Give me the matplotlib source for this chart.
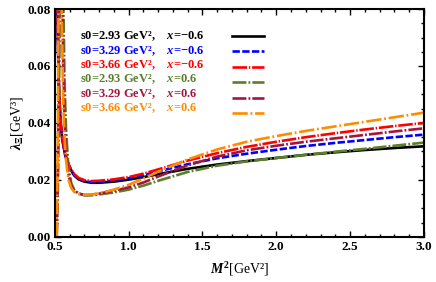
import matplotlib
matplotlib.use("Agg")
import matplotlib.pyplot as plt
from matplotlib.ticker import MultipleLocator

plt.rcParams['font.family'] = ['Liberation Serif', 'DejaVu Serif']
plt.rcParams['font.weight'] = 'bold'
plt.rcParams['mathtext.fontset'] = 'custom'
plt.rcParams['mathtext.rm'] = 'Liberation Serif:bold'
plt.rcParams['mathtext.it'] = 'Liberation Serif:italic:bold'
plt.rcParams['mathtext.bf'] = 'Liberation Serif:bold'
plt.rcParams['lines.scale_dashes'] = False

# x = -0.6 curves
m2_a = [0.515, 0.52, 0.525, 0.53, 0.54, 0.55, 0.57, 0.6, 0.63, 0.66, 0.7, 0.75, 0.8,
        0.9, 1.0, 1.1, 1.2, 1.4, 1.6, 1.8, 2.0, 2.2, 2.4, 2.6, 2.8, 3.0]
lam_293_m = [0.095, 0.070, 0.055, 0.047, 0.039, 0.034, 0.0285, 0.0242, 0.0216, 0.0202, 0.0194,
             0.0190, 0.0190, 0.0194, 0.0201, 0.0210, 0.0220, 0.0239, 0.0254, 0.0266, 0.0277,
             0.0288, 0.0297, 0.0305, 0.0312, 0.0318]
lam_329_m = [0.096, 0.071, 0.056, 0.048, 0.0395, 0.0345, 0.0288, 0.0244, 0.0218, 0.0204, 0.0196,
             0.0192, 0.0193, 0.0198, 0.0206, 0.0217, 0.0230, 0.0255, 0.0276, 0.0292, 0.0306,
             0.0319, 0.0330, 0.0340, 0.0350, 0.0359]
lam_366_m = [0.097, 0.072, 0.057, 0.049, 0.040, 0.035, 0.029, 0.0246, 0.0221, 0.0207, 0.0199,
             0.0196, 0.0197, 0.0202, 0.0210, 0.0222, 0.0237, 0.0268, 0.0294, 0.0316, 0.0334,
             0.0350, 0.0364, 0.0377, 0.0389, 0.0400]

# x = 0.6 curves
m2_b = [0.512, 0.52, 0.528, 0.536, 0.545, 0.555, 0.565, 0.575, 0.59, 0.61, 0.63, 0.66, 0.7,
        0.75, 0.8, 0.9, 1.0, 1.1, 1.2, 1.4, 1.6, 1.8, 2.0, 2.2, 2.4, 2.6, 2.8, 3.0]
lam_293_p = [0.0, 0.018, 0.05, 0.12, 0.2, 0.09, 0.055, 0.038, 0.0255, 0.0190, 0.0166, 0.0153,
             0.0146, 0.0146, 0.0149, 0.0156, 0.0166, 0.0180, 0.0197, 0.0228, 0.0250, 0.0265,
             0.0277, 0.0288, 0.0299, 0.0309, 0.0320, 0.0331]
lam_329_p = [0.0, 0.025, 0.07, 0.2, 0.12, 0.065, 0.042, 0.031, 0.0225, 0.0180, 0.0162, 0.0152,
             0.0147, 0.0148, 0.0152, 0.0162, 0.0174, 0.0191, 0.0212, 0.0251, 0.0282, 0.0304,
             0.0320, 0.0334, 0.0346, 0.0358, 0.0370, 0.0381]
lam_366_p = [0.0, 0.035, 0.12, 0.2, 0.085, 0.05, 0.035, 0.027, 0.0205, 0.0172, 0.0158, 0.0151,
             0.0148, 0.0149, 0.0153, 0.0166, 0.0183, 0.0205, 0.0229, 0.0272, 0.0307, 0.0334,
             0.0354, 0.0372, 0.0388, 0.0404, 0.0420, 0.0436]

labels = ["s0=2.93 GeV²,    $x$=−0.6", "s0=3.29 GeV²,    $x$=−0.6", "s0=3.66 GeV²,    $x$=−0.6",
          "s0=2.93 GeV²,    $x$=0.6", "s0=3.29 GeV²,    $x$=0.6", "s0=3.66 GeV²,    $x$=0.6"]
colors = ['black', '#0000ff', '#ff0000', '#5b7f2c', '#a3163f', '#ff8c00']
dashes = [(None, None), (5.3, 1.7), (10.5, 1.3, 1.0, 1.3), (10, 1.5, 1.3, 1.5),
          (10, 1.5, 1.3, 1.5), (11, 2, 1.3, 2)]

series = [(m2_a, lam_293_m), (m2_a, lam_329_m), (m2_a, lam_366_m),
          (m2_b, lam_293_p), (m2_b, lam_329_p), (m2_b, lam_366_p)]

fig = plt.figure(figsize=(4.36, 2.82), dpi=100)
ax = fig.add_axes([0.126, 0.16, 0.846, 0.808])

handles = []
for (xs, ys), c, d in zip(series, colors, dashes):
    if d[0] is None:
        ln, = ax.plot(xs, ys, color=c, lw=1.9)
    else:
        ln, = ax.plot(xs, ys, color=c, lw=1.9, dashes=d)
    handles.append(ln)

ax.set_xlim(0.5, 3.0)
ax.set_ylim(0.0, 0.08)
ax.xaxis.set_major_locator(MultipleLocator(0.5))
ax.xaxis.set_minor_locator(MultipleLocator(0.1))
ax.yaxis.set_major_locator(MultipleLocator(0.02))
ax.yaxis.set_minor_locator(MultipleLocator(0.005))
ax.xaxis.set_major_formatter(plt.FormatStrFormatter('%.1f'))
ax.yaxis.set_major_formatter(plt.FormatStrFormatter('%.2f'))
ax.tick_params(which='both', direction='in', top=True, right=True, labelsize=9.5, width=1)
ax.tick_params(which='major', length=4, pad=3)
ax.tick_params(which='minor', length=2.2)
for s in ax.spines.values():
    s.set_linewidth(1.5)

ax.set_xlabel("$M^2$[GeV²]", fontsize=10, labelpad=5)
ax.set_ylabel(r"$\lambda_{\Xi}$[GeV³]", fontsize=10, labelpad=2)

for i, (lab, c) in enumerate(zip(labels, colors)):
    ax.text(0.068, 0.879 - i * 0.0627, lab, color=c, fontsize=9,
            transform=ax.transAxes, va='center', ha='left')

ax.legend(handles, [''] * 6, loc='upper left', bbox_to_anchor=(0.48, 0.905),
          frameon=False, fontsize=8.5, handlelength=2.7, handletextpad=0,
          borderpad=0, borderaxespad=0, labelspacing=0.3)

fig.savefig("out.png", dpi=100)
